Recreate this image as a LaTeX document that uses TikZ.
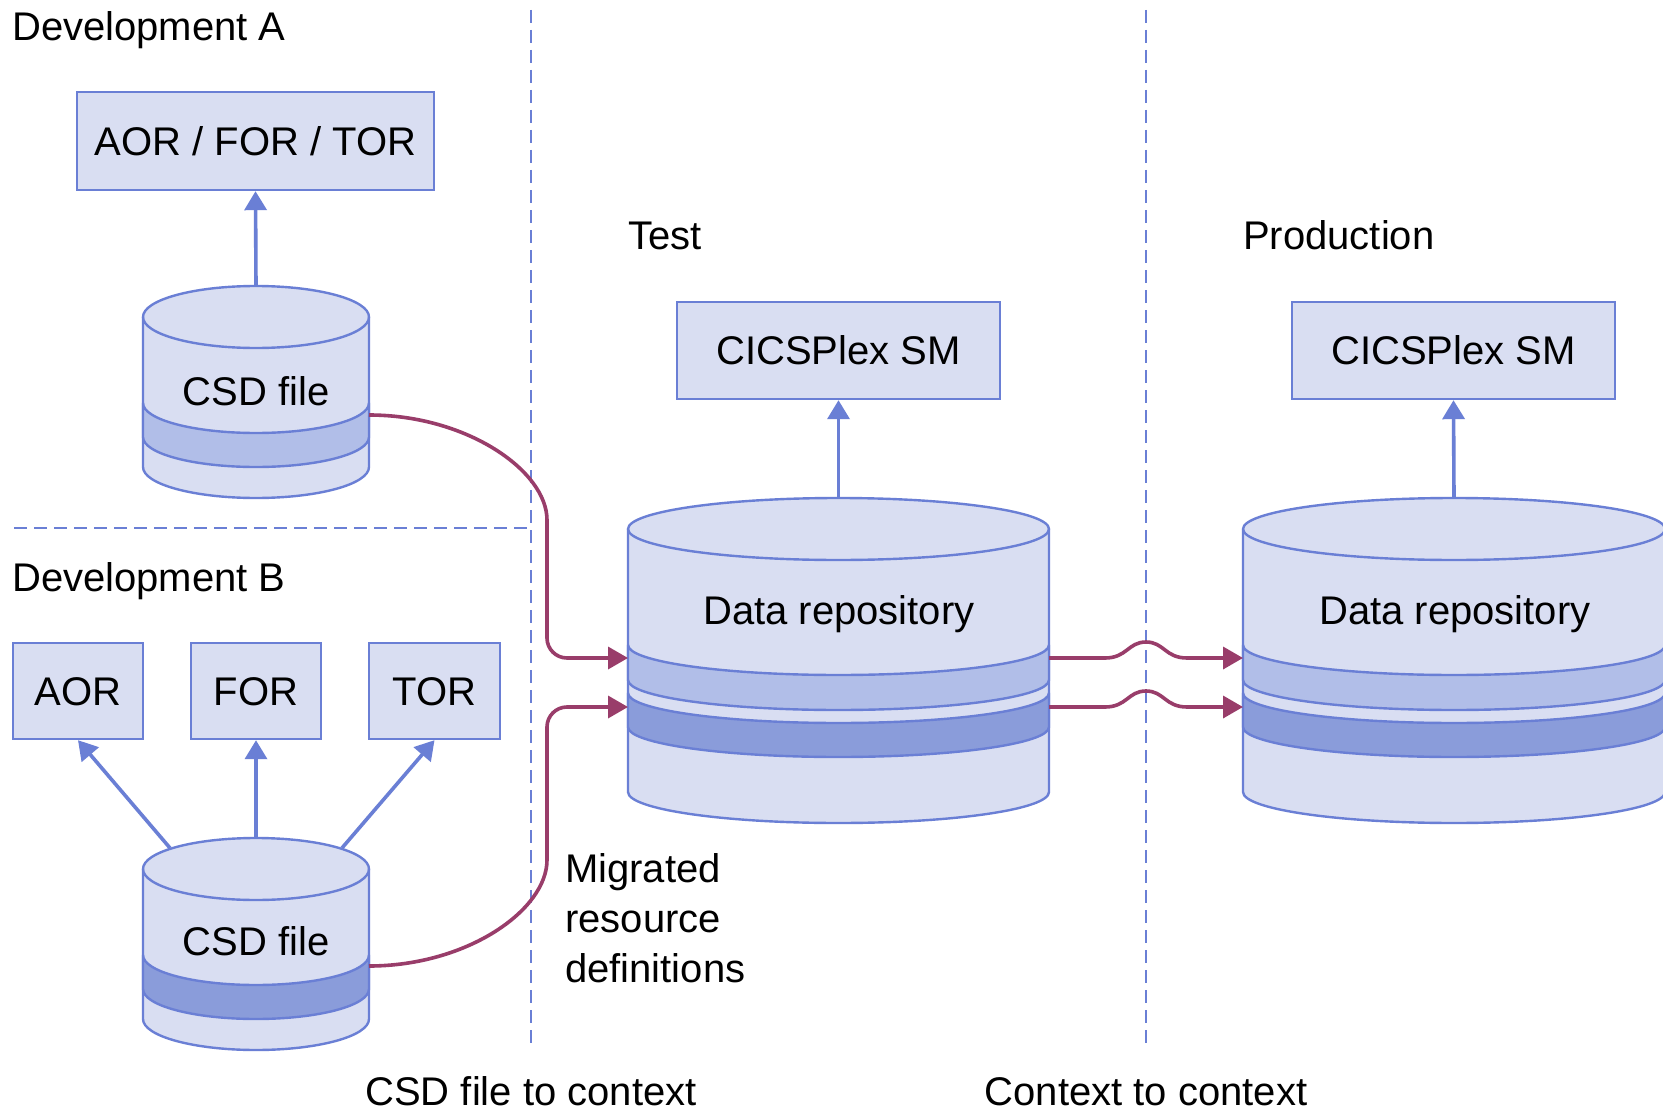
\documentclass[tikz,border=0pt]{standalone}
\usepackage{fontspec}
\setmainfont{Liberation Sans}
\usetikzlibrary{arrows.meta}
\definecolor{lineblue}{HTML}{6A7FD5}
\definecolor{cylfill}{HTML}{D9DEF2}
\definecolor{bandlight}{HTML}{B1BEE8}
\definecolor{banddark}{HTML}{8A9CDA}
\definecolor{migr}{HTML}{993D6A}
% half ellipse from (#1,#3) to (#2,#3) bulging down by #4
\newcommand\dnarc[4]{ .. controls (#1,#3+0.5523*#4) and ({(#1+#2)/2-0.27615*(#2-#1)},#3+#4) .. ({(#1+#2)/2},#3+#4)
 .. controls ({(#1+#2)/2+0.27615*(#2-#1)},#3+#4) and (#2,#3+0.5523*#4) .. (#2,#3)}
% from (#2,#3) to (#1,#3) bulging up
\newcommand\uparcRL[4]{ .. controls (#2,#3-0.5523*#4) and ({(#1+#2)/2+0.27615*(#2-#1)},#3-#4) .. ({(#1+#2)/2},#3-#4)
 .. controls ({(#1+#2)/2-0.27615*(#2-#1)},#3-#4) and (#1,#3-0.5523*#4) .. (#1,#3)}
% from (#2,#3) to (#1,#3) bulging down
\newcommand\dnarcRL[4]{ .. controls (#2,#3+0.5523*#4) and ({(#1+#2)/2+0.27615*(#2-#1)},#3+#4) .. ({(#1+#2)/2},#3+#4)
 .. controls ({(#1+#2)/2-0.27615*(#2-#1)},#3+#4) and (#1,#3+0.5523*#4) .. (#1,#3)}
\newcommand\cylbody[5]{%
 \filldraw[cylline, fill=cylfill] (#1,#3) -- (#1,#4) \dnarc{#1}{#2}{#4}{#5} -- (#2,#3) \uparcRL{#1}{#2}{#3}{#5} -- cycle;
 \draw[cylline] (#1,#3) \dnarc{#1}{#2}{#3}{#5};}
\newcommand\cylband[5]{%
 \filldraw[cylline, fill=#5] (#1,#3) \dnarc{#1}{#2}{#3}{30} -- (#2,#4) \dnarcRL{#1}{#2}{#4}{30} -- cycle;}
\begin{document}
\begin{tikzpicture}[x=1pt,y=-1pt,
  font=\fontsize{40pt}{48pt}\selectfont,
  cylline/.style={draw=lineblue, line width=2.4pt, line join=round},
  box/.style={draw=lineblue, fill=cylfill, line width=2.4pt, inner sep=0pt, text height=28.6pt, text depth=0pt},
  lbl/.style={inner sep=0pt, anchor=base west},
  clbl/.style={inner sep=0pt, anchor=base},
  divider/.style={draw=lineblue, line width=2.6pt, dash pattern=on 13pt off 7pt},
  feed/.style={draw=lineblue, line width=3.6pt, -{Triangle[length=19pt,width=22pt]}},
  migrate/.style={draw=migr, line width=3.6pt, -{Triangle[length=20pt,width=22pt]}}]
\useasboundingbox (0,0) rectangle (1663,1113);
\fill[white] (0,0) rectangle (1663,1113);

% dividers
\draw[divider] (14,528) -- (530,528);
\draw[divider] (531,10) -- (531,1047);
\draw[divider] (1146,10) -- (1146,1047);

% cylinders
\cylbody{143}{369}{317}{467}{31}
\cylband{143}{369}{403}{437}{bandlight}
\cylbody{143}{369}{869}{1019}{31}
\cylband{143}{369}{955}{989}{banddark}
\cylbody{628}{1049}{529}{792}{31}
\cylband{628}{1049}{645}{680}{bandlight}
\cylband{628}{1049}{693}{727}{banddark}
\cylbody{1243}{1665}{529}{792}{31}
\cylband{1243}{1665}{645}{680}{bandlight}
\cylband{1243}{1665}{693}{727}{banddark}

% named coordinates on the cylinders
\coordinate (csdA-top) at (256,286);
\coordinate (csdA-out) at (369,415);
\coordinate (csdB-top) at (256,838);
\coordinate (csdB-topl) at (170,848);
\coordinate (csdB-topr) at (342,848);
\coordinate (csdB-out) at (369,966);
\coordinate (testrep-top) at (838.5,498);
\coordinate (testrep-in1) at (628,658);
\coordinate (testrep-in2) at (628,707);
\coordinate (testrep-out1) at (1049,658);
\coordinate (testrep-out2) at (1049,707);
\coordinate (prodrep-top) at (1454,498);
\coordinate (prodrep-in1) at (1243,658);
\coordinate (prodrep-in2) at (1243,707);

% boxes
\node[box, minimum width=357pt, minimum height=98pt] (boxA) at (255.5,141) {AOR / FOR / TOR};
\node[box, minimum width=130pt, minimum height=96pt] (aor) at (78,691) {AOR};
\node[box, minimum width=130pt, minimum height=96pt] (for) at (256,691) {FOR};
\node[box, minimum width=131pt, minimum height=96pt] (tor) at (434.5,691) {TOR};
\node[box, minimum width=323pt, minimum height=97pt] (cicsT) at (838.5,350.5) {CICSPlex SM};
\node[box, minimum width=323pt, minimum height=97pt] (cicsP) at (1453.5,350.5) {CICSPlex SM};

% labels
\node[lbl] (devA) at (12,41) {Development A};
\node[lbl] (devB) at (12,591) {Development B};
\node[lbl] (test) at (628,249) {Test};
\node[lbl] (prod) at (1243,249) {Production};
\node[clbl] (csdA) at (256,405) {CSD file};
\node[clbl] (csdB) at (256,955) {CSD file};
\node[clbl] (repT) at (839,624) {Data repository};
\node[clbl] (repP) at (1455,624) {Data repository};
\node[lbl] (mig1) at (565,882) {Migrated};
\node[lbl] (mig2) at (565,932) {resource};
\node[lbl] (mig3) at (565,982) {definitions};
\node[clbl] (ctx1) at (531,1105) {CSD file to context};
\node[clbl] (ctx2) at (1146,1105) {Context to context};

% blue arrows
\draw[feed] (csdA-top) -- (boxA.south);
\draw[feed] (csdB-topl) -- (aor.south);
\draw[feed] (csdB-top) -- (for.south);
\draw[feed] (csdB-topr) -- (tor.south);
\draw[feed] (testrep-top) -- (cicsT.south);
\draw[feed] (prodrep-top) -- (cicsP.south);

% migration connectors
\draw[migrate, rounded corners=20pt] (csdA-out) .. controls (467,415) and (547,471) .. (547,540) |- (testrep-in1);
\draw[migrate, rounded corners=20pt] (csdB-out) .. controls (467,966) and (547,910) .. (547,840) |- (testrep-in2);
\draw[migrate] (testrep-out1) -- (1105,658) .. controls (1127,658) and (1128,642) .. (1146,642) .. controls (1164,642) and (1165,658) .. (1187,658) -- (prodrep-in1);
\draw[migrate] (testrep-out2) -- (1105,707) .. controls (1127,707) and (1128,691) .. (1146,691) .. controls (1164,691) and (1165,707) .. (1187,707) -- (prodrep-in2);
\end{tikzpicture}
\end{document}
